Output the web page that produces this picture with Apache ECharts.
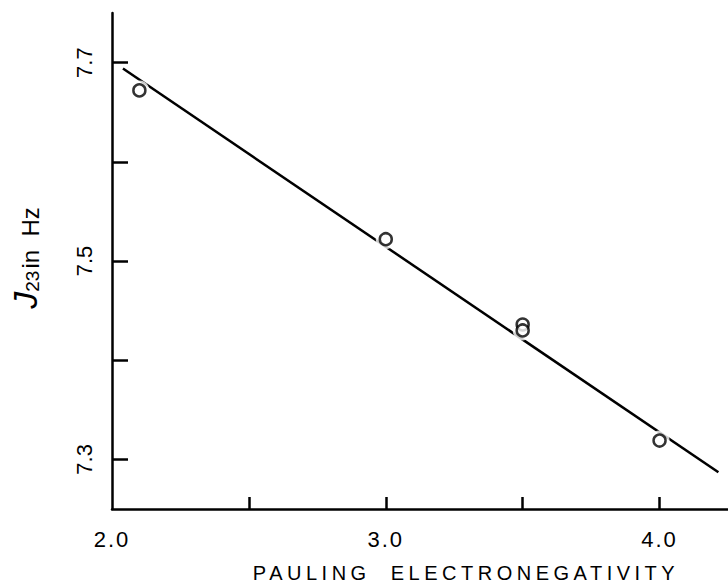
<!DOCTYPE html>
<html>
<head>
<meta charset="utf-8">
<script src="https://cdn.jsdelivr.net/npm/echarts@6/dist/echarts.min.js"></script>
<style>html,body{margin:0;padding:0;background:#fff}#c{width:728px;height:588px}</style>
</head>
<body>
<div id="c"></div>
<script>
// Data
const electronegativity = [2.1, 3.0, 3.5, 3.5, 4.0];
const j23 = [7.672, 7.522, 7.436, 7.430, 7.319];
const fitX = [2.04, 4.215];
const fitY = [7.694, 7.287];
const xTicks = [2.5, 3.0, 3.5, 4.0];
const xLabels = [2.0, 3.0, 4.0];
const yTicks = [7.3, 7.4, 7.5, 7.6, 7.7];
const yLabels = [7.3, 7.5, 7.7];
const xTitle = 'PAULING  ELECTRONEGATIVITY';

const points = electronegativity.map((x, i) => [x, j23[i]]);
const fitLine = fitX.map((x, i) => [x, fitY[i]]);
const font = 'Liberation Sans';

const chart = echarts.init(document.getElementById('c'), null, {renderer: 'svg'});
chart.setOption({
  animation: false,
  backgroundColor: '#fff',
  grid: {left: 111, right: 0, top: 13, bottom: 72, containLabel: false},
  xAxis: {
    type: 'value', min: 2.0, max: 4.25,
    axisLine: {show: true, lineStyle: {color: '#000', width: 2.5}},
    axisTick: {show: true, inside: true, length: 12, customValues: xTicks, lineStyle: {color: '#000', width: 2.5}},
    axisLabel: {customValues: xLabels, formatter: v => v.toFixed(1), color: '#000', fontFamily: font, fontSize: 22, margin: 19},
    splitLine: {show: false},
    name: xTitle, nameLocation: 'middle', nameGap: 54,
    nameTextStyle: {color: '#000', fontFamily: font, fontSize: 20, padding: [0, 0, 0, 92]}
  },
  yAxis: {
    type: 'value', min: 7.25, max: 7.75,
    axisLine: {show: true, lineStyle: {color: '#000', width: 2.5}},
    axisTick: {show: true, inside: true, length: 16, customValues: yTicks, lineStyle: {color: '#000', width: 2.5}},
    axisLabel: {customValues: yLabels, formatter: v => v.toFixed(1), rotate: 90, color: '#000', fontFamily: font, fontSize: 22, margin: 17},
    splitLine: {show: false},
    name: '{j|J}{s|23}{t|in  Hz}', nameLocation: 'middle', nameRotate: 90, nameGap: 70,
    nameTextStyle: {
      padding: [0, 0, 0, 6],
      rich: {
        j: {fontFamily: font, fontStyle: 'italic', fontSize: 34, color: '#000', verticalAlign: 'bottom', lineHeight: 36},
        s: {fontFamily: font, fontSize: 19, color: '#000', verticalAlign: 'bottom', lineHeight: 36, padding: [0, 2, 0, 0]},
        t: {fontFamily: font, fontSize: 24, color: '#000', verticalAlign: 'bottom', lineHeight: 36}
      }
    }
  },
  series: [
    {type: 'line', data: fitLine, symbol: 'none', lineStyle: {color: '#000', width: 2.5}, z: 1},
    {type: 'scatter', data: points, symbol: 'circle', symbolSize: 20, itemStyle: {color: '#fff'}, z: 2, silent: true},
    {type: 'scatter', data: points, symbol: 'circle', symbolSize: 12, itemStyle: {color: '#fff', borderColor: '#000', borderWidth: 2.5}, z: 3}
  ]
});

// widen letter spacing of the printed-style axis texts
function spaceOut() {
  const labelTexts = xLabels.map(v => v.toFixed(1));
  document.querySelectorAll('#c svg text').forEach(t => {
    const s = t.textContent;
    if (s === xTitle) { t.style.letterSpacing = '4.5px'; t.style.whiteSpace = 'pre'; }
    else if (labelTexts.indexOf(s) >= 0) { t.style.letterSpacing = '2px'; }
  });
}
spaceOut();
chart.on('finished', spaceOut);
</script>
</body>
</html>
